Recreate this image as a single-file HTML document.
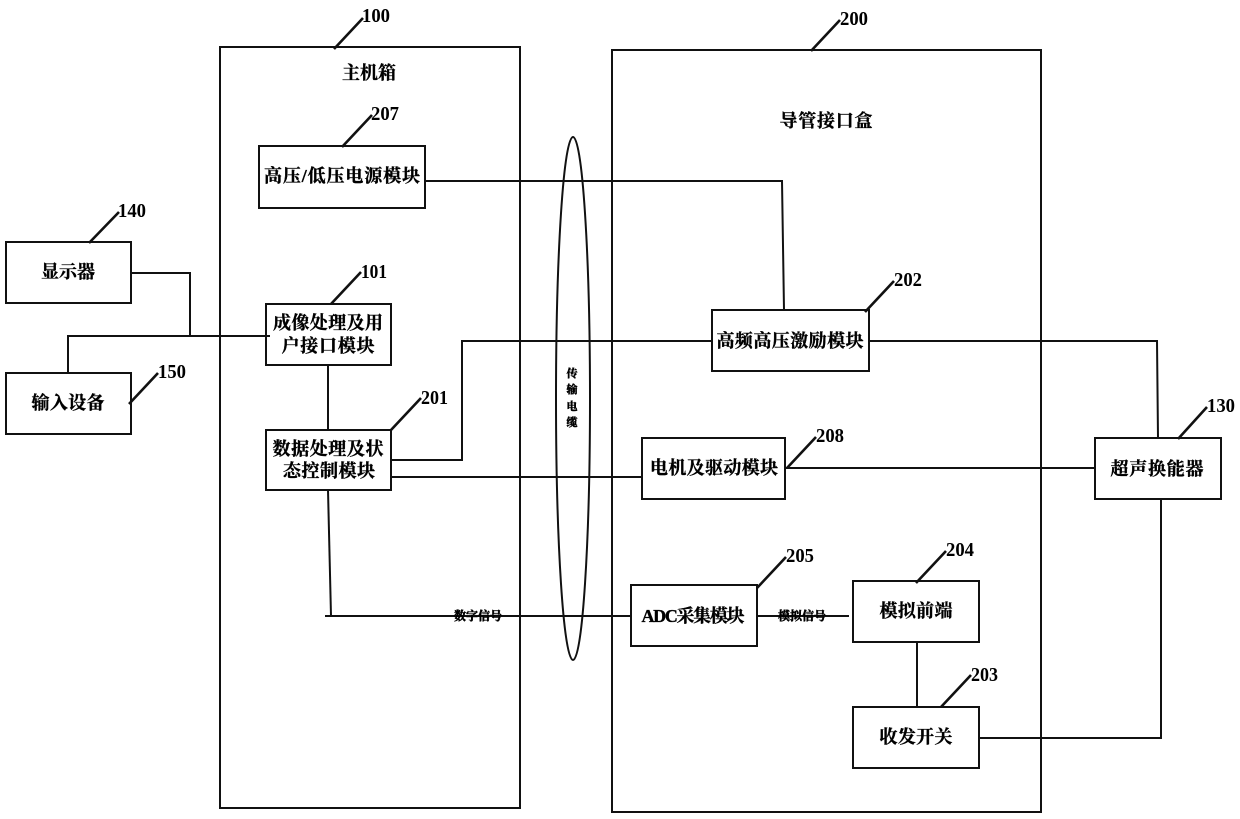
<!DOCTYPE html>
<html><head><meta charset="utf-8"><style>
html,body{margin:0;padding:0;background:#fff}
svg{display:block;filter:blur(0.35px)}
.z{font-family:"Liberation Serif","Noto Serif CJK SC",serif;font-weight:700;fill:#000;stroke:#000;text-anchor:middle;dominant-baseline:central}
.t{font-size:18px;stroke-width:.35px}.s{font-size:12px;stroke-width:.5px}.c{font-size:11px;stroke-width:.5px}
.n{font-family:"Liberation Serif",serif;font-weight:700;font-size:20px;fill:#000}
</style></head><body>
<svg width="1240" height="819" viewBox="0 0 1240 819" xmlns="http://www.w3.org/2000/svg">
<rect width="1240" height="819" fill="#fff"/>
<g fill="none" stroke="#111" stroke-width="2">
<rect x="220" y="47" width="300" height="761"/>
<rect x="612" y="50" width="429" height="762"/>
<rect x="259" y="146" width="166" height="62"/>
<rect x="6" y="242" width="125" height="61"/>
<rect x="6" y="373" width="125" height="61"/>
<rect x="266" y="304" width="125" height="61"/>
<rect x="266" y="430" width="125" height="60"/>
<rect x="712" y="310" width="157" height="61"/>
<rect x="642" y="438" width="143" height="61"/>
<rect x="631" y="585" width="126" height="61"/>
<rect x="853" y="581" width="126" height="61"/>
<rect x="853" y="707" width="126" height="61"/>
<rect x="1095" y="438" width="126" height="61"/>
<ellipse cx="573" cy="398.500" rx="17" ry="261.500"/>
<path d="M425 181H782L784 310"/>
<path d="M131 273H190V336"/>
<path d="M270 336H68V373"/>
<path d="M328 365V430"/>
<path d="M391 460H462V341H712"/>
<path d="M869 341H1157L1158 438"/>
<path d="M391 477H642"/>
<path d="M785 468H1095"/>
<path d="M328 490L331 616"/>
<path d="M325 616H631"/>
<path d="M757 616H849"/>
<path d="M917 642V707"/>
<path d="M979 738H1161V499"/>
<path stroke-width="2.600" d="M334 49L363 18M342 147L372 115M89 243L119 212M129 404L158 373M331 304L361 272M391 430L421 398M811 51L840 20M865 312L894 281M787 468L816 437M757 588L786 557M916 583L946 551M941 707L971 675M1178 439L1207 407"/>
</g>
<g class="n">
<text class="n" x="362" y="22" textLength="28" lengthAdjust="spacingAndGlyphs">100</text>
<text class="n" x="371" y="120" textLength="28" lengthAdjust="spacingAndGlyphs">207</text>
<text class="n" x="118" y="217" textLength="28" lengthAdjust="spacingAndGlyphs">140</text>
<text class="n" x="158" y="378" textLength="28" lengthAdjust="spacingAndGlyphs">150</text>
<text class="n" x="361" y="278" textLength="26" lengthAdjust="spacingAndGlyphs">101</text>
<text class="n" x="421" y="404" textLength="27" lengthAdjust="spacingAndGlyphs">201</text>
<text class="n" x="840" y="25" textLength="28" lengthAdjust="spacingAndGlyphs">200</text>
<text class="n" x="894" y="286" textLength="28" lengthAdjust="spacingAndGlyphs">202</text>
<text class="n" x="816" y="442" textLength="28" lengthAdjust="spacingAndGlyphs">208</text>
<text class="n" x="786" y="562" textLength="28" lengthAdjust="spacingAndGlyphs">205</text>
<text class="n" x="946" y="556" textLength="28" lengthAdjust="spacingAndGlyphs">204</text>
<text class="n" x="971" y="681" textLength="27" lengthAdjust="spacingAndGlyphs">203</text>
<text class="n" x="1207" y="412" textLength="28" lengthAdjust="spacingAndGlyphs">130</text>
</g>
<text class="z t" x="369" y="73">主机箱</text>
<text class="z t" x="826" y="121" textLength="93">导管接口盒</text>
<text class="z t" x="342" y="176" textLength="156">高压/低压电源模块</text>
<text class="z t" x="68" y="272">显示器</text>
<text class="z t" x="68" y="403" textLength="73">输入设备</text>
<text class="z t" x="328" y="323" textLength="110">成像处理及用</text>
<text class="z t" x="328" y="346" textLength="93">户接口模块</text>
<text class="z t" x="328" y="449" textLength="111">数据处理及状</text>
<text class="z t" x="329" y="471" textLength="92">态控制模块</text>
<text class="z t" x="790" y="341" textLength="147">高频高压激励模块</text>
<text class="z t" x="714" y="468" textLength="128">电机及驱动模块</text>
<text class="z t" x="693" y="616" textLength="103">ADC采集模块</text>
<text class="z t" x="916" y="611" textLength="73">模拟前端</text>
<text class="z t" x="916" y="737" textLength="73">收发开关</text>
<text class="z t" x="1157" y="469" textLength="93">超声换能器</text>
<text class="z s" x="478" y="616" textLength="48">数字信号</text>
<text class="z s" x="802" y="616" textLength="48">模拟信号</text>
<text class="z c" x="572" y="374">传</text>
<text class="z c" x="572" y="390">输</text>
<text class="z c" x="572" y="407">电</text>
<text class="z c" x="572" y="423">缆</text>
</svg>
</body></html>
